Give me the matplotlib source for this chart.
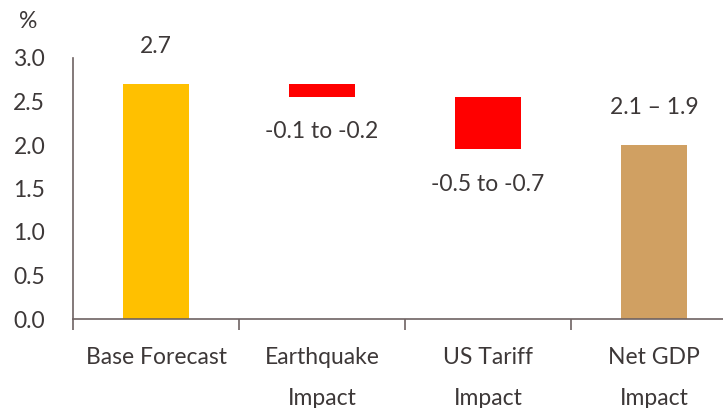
import matplotlib.pyplot as plt
from matplotlib.ticker import FixedLocator

# GDP forecast bridge: base, shocks and net result
categories = ["Base Forecast", "Earthquake\nImpact", "US Tariff\nImpact", "Net GDP\nImpact"]
bar_start = [0.0, 2.7, 2.55, 0.0]
bar_end = [2.7, 2.55, 1.95, 2.0]
value_labels = ["2.7", "-0.1 to -0.2", "-0.5 to -0.7", "2.1 \u2013 1.9"]
bar_colors = ["#FFC000", "#FF0000", "#FF0000", "#D0A062"]
y_ticks = [0.0, 0.5, 1.0, 1.5, 2.0, 2.5, 3.0]

text_color = "#3d3838"
axis_color = "#6e6262"
fs = 16.5

plt.rcParams["font.family"] = ["Lato", "DejaVu Sans"]

fig = plt.figure(figsize=(7.23, 4.08), dpi=100)
ax = fig.add_axes([73 / 723, 89 / 408, 664 / 723, 261 / 408])

x = list(range(len(categories)))
heights = [e - s for s, e in zip(bar_start, bar_end)]
ax.bar(x, heights, bottom=bar_start, width=0.4, color=bar_colors, zorder=2)

for i, (s, e, lab) in enumerate(zip(bar_start, bar_end, value_labels)):
    if e >= s:
        # totals: label above the bar
        ax.annotate(lab, (i, max(s, e)), xytext=(0, 27), textcoords="offset points",
                    ha="center", va="center", fontsize=fs, color=text_color,
                    annotation_clip=False)
    else:
        # reductions: label below the bar
        ax.annotate(lab, (i, min(s, e)), xytext=(0, -25), textcoords="offset points",
                    ha="center", va="center", fontsize=fs, color=text_color,
                    annotation_clip=False)

ax.set_xlim(-0.5, 3.5)
ax.set_ylim(0, 3.0)
ax.set_yticks(y_ticks)
ax.set_yticklabels([f"{v:.1f}" for v in y_ticks])

# tick marks between categories, labels at the centres
ax.xaxis.set_major_locator(FixedLocator([-0.5, 0.5, 1.5, 2.5, 3.5]))
ax.xaxis.set_major_formatter(plt.NullFormatter())
ax.xaxis.set_minor_locator(FixedLocator(x))
ax.set_xticklabels(categories, minor=True, linespacing=2.2)
ax.tick_params(axis="x", which="major", length=8, width=1.2, color=axis_color, direction="out")
ax.tick_params(axis="x", which="minor", length=0, pad=20, labelsize=fs, labelcolor=text_color)
ax.tick_params(axis="y", length=0, pad=20, labelsize=fs, labelcolor=text_color)

for side in ["top", "right"]:
    ax.spines[side].set_visible(False)
for side in ["left", "bottom"]:
    ax.spines[side].set_color(axis_color)
    ax.spines[side].set_linewidth(1.2)

fig.text(28 / 723, 1 - 22 / 408, "%", ha="center", va="center", fontsize=fs, color=text_color)

fig.savefig("out.png", dpi=100)
